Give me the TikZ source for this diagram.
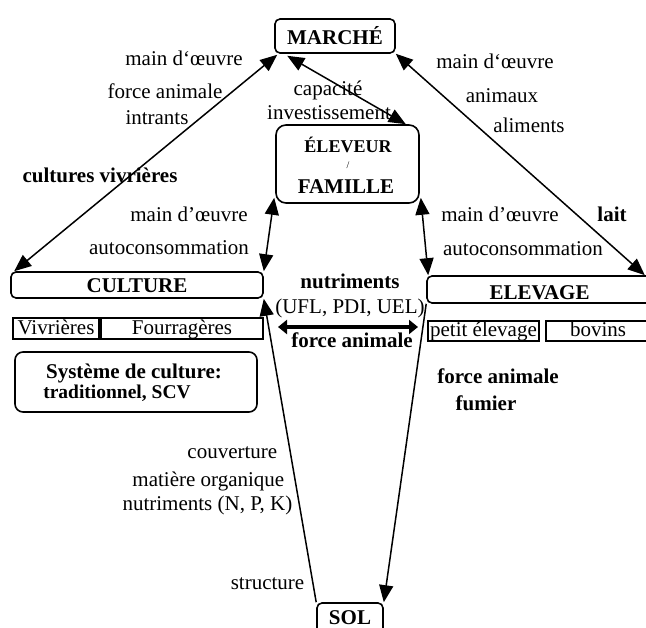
\documentclass[tikz,border=0pt]{standalone}
\usepackage{fontspec}
\setmainfont{Liberation Serif}
\usetikzlibrary{arrows.meta}
\newcommand{\fsA}{\fontsize{21}{24}\selectfont}
\newcommand{\fsB}{\fontsize{19.5}{22}\selectfont}
\begin{document}
\begin{tikzpicture}[x=1pt,y=-1pt,
  line width=1.5pt,
  >={Triangle[length=17pt,width=14pt]},
  box/.style={draw, line width=1.6pt, rounded corners=5pt, inner sep=0pt, font=\fsA\bfseries},
  sbox/.style={draw, line width=1.6pt, inner sep=0pt, font=\fsA, text height=12pt, text depth=0pt},
  t/.style={font=\fsA, inner sep=0pt, anchor=base},
  tb/.style={font=\fsA\bfseries, inner sep=0pt, anchor=base},
  te/.style={font=\fsA, inner sep=0pt, anchor=base east},
  link/.style={<->},
  thicklink/.style={{Triangle[length=9pt,width=14pt]}-{Triangle[length=9pt,width=14pt]}, line width=4pt}
]
\useasboundingbox (0,0) rectangle (646,628);
\clip (0,0) rectangle (646,628);

% boxes
\node[box, minimum width=120pt, minimum height=34pt, text height=18pt, text depth=0pt] (marche) at (335,36) {MARCHÉ};
\node[box, rounded corners=10pt, minimum width=143pt, minimum height=78pt] (eleveur) at (347.5,164) {};
\node[box, minimum width=252pt, minimum height=26pt, text height=16pt, text depth=0pt] (culture) at (137,285) {CULTURE};
\node[sbox, minimum width=86pt, minimum height=21pt] (vivr) at (56,328.5) {Vivrières};
\node[sbox, minimum width=162pt, minimum height=21pt] (fourr) at (182,328.5) {Fourragères};
\node[box, rounded corners=8pt, minimum width=242pt, minimum height=60pt] (systeme) at (136,382) {};
\node[box, minimum width=225pt, minimum height=27pt, text height=20pt, text depth=0pt] (elevage) at (539.5,289.5) {ELEVAGE};
\node[sbox, minimum width=111pt, minimum height=20pt] (petit) at (483.5,331) {petit élevage};
\node[sbox, minimum width=104pt, minimum height=20pt] (bovins) at (598,331) {bovins};
\node[box, minimum width=66pt, minimum height=30pt] (sol) at (350,618) {SOL};

% texts inside eleveur and systeme
\node[font=\fontsize{18}{20}\selectfont\bfseries, inner sep=0pt, anchor=base] (tel) at (348,153) {ÉLEVEUR};
\node[font=\fontsize{10}{12}\selectfont, inner sep=0pt, anchor=base] (tsl) at (348,169) {/};
\node[tb] (tfa) at (346,194) {FAMILLE};
\node[tb] (tsys1) at (134,379) {Système de culture:};
\node[font=\fsB\bfseries, inner sep=0pt, anchor=base] (tsys2) at (117,399) {traditionnel, SCV};

% connectors
\draw[link] ([xshift=4pt]culture.north west) -- ([xshift=3pt,yshift=-1pt]marche.south west);
\draw[link] ([xshift=13pt,yshift=-2pt]marche.south west) -- ([xshift=-14pt]eleveur.north east);
\draw[link] (marche.south east) -- ([xshift=-8pt]elevage.north east);
\draw[link] ([xshift=-1pt,yshift=6pt]eleveur.south west) -- (culture.north east);
\draw[link] ([xshift=1pt,yshift=6pt]eleveur.south east) -- ([xshift=2pt]elevage.north west);
\coordinate (thl) at (278,327);
\coordinate (thr) at (418,327);
\draw[thicklink] (thl) -- (thr);
\draw[->] (sol.north west) -- (culture.south east);
\draw[->] (elevage.south west) -- (sol.north east);

% labels left
\node[t] (l1) at (184,66) {main d‘œuvre};
\node[t] (l2) at (165,99) {force animale};
\node[t] (l3) at (157,125) {intrants};
\node[tb] (l4) at (100,183) {cultures vivrières};
\node[t] (l5) at (189,222) {main d’œuvre};
\node[t] (l6) at (169,255) {autoconsommation};
% labels centre
\node[t] (c1) at (328,96) {capacité};
\node[t] (c2) at (329,120) {investissement};
\node[tb] (c3) at (350,289) {nutriments};
\node[t] (c4) at (350,314) {(UFL, PDI, UEL)};
\node[tb] (c5) at (352,348) {force animale};
% labels right
\node[t] (r1) at (495,69) {main d‘œuvre};
\node[t] (r2) at (502,103) {animaux};
\node[t] (r3) at (529,133) {aliments};
\node[tb] (r4) at (612,222) {lait};
\node[t] (r5) at (500,222) {main d’œuvre};
\node[t] (r6) at (523,256) {autoconsommation};
\node[tb] (r7) at (498,384) {force animale};
\node[tb] (r8) at (486,411) {fumier};
% labels bottom left
\node[te] (b1) at (278,459) {couverture};
\node[te] (b2) at (285,486) {matière organique};
\node[te] (b3) at (293,511) {nutriments (N, P, K)};
\node[te] (b4) at (305,589) {structure};
\end{tikzpicture}
\end{document}
